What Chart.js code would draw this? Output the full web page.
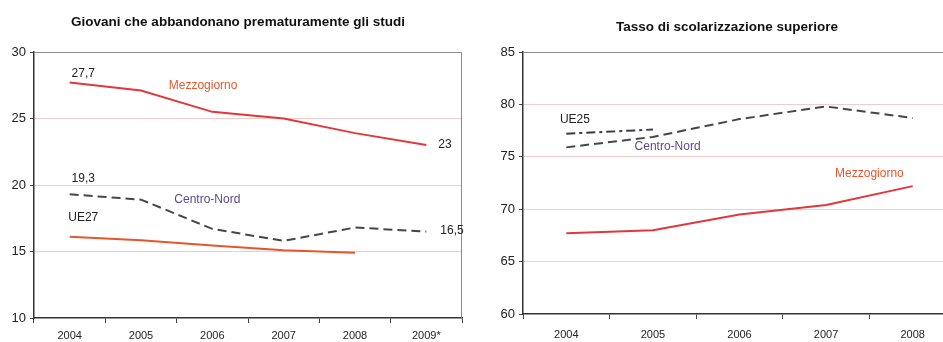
<!DOCTYPE html>
<html>
<head>
<meta charset="utf-8">
<script src="https://cdn.jsdelivr.net/npm/chart.js@4.4.0/dist/chart.umd.min.js"></script>
<style>
  html, body { margin: 0; padding: 0; background: #fff; overflow: hidden; width: 943px; height: 342px; }
  #left { position: absolute; left: 0; top: 0; }
  #right { position: absolute; left: 470px; top: 0; }
</style>
</head>
<body>
<canvas id="left" width="470" height="342"></canvas>
<canvas id="right" width="490" height="342"></canvas>
<script>
// left chart: giovani che abbandonano
const leftYears = ['2004', '2005', '2006', '2007', '2008', '2009*'];
const leftMezzogiorno = [27.7, 27.1, 25.5, 25.0, 23.9, 23.0];
const leftCentroNord = [19.3, 18.9, 16.7, 15.8, 16.8, 16.5];
const leftUE27 = [16.1, 15.85, 15.45, 15.1, 14.9, null];

// right chart: tasso di scolarizzazione
const rightYears = ['2004', '2005', '2006', '2007', '2008'];
const rightMezzogiorno = [67.7, 68.0, 69.5, 70.4, 72.2];
const rightCentroNord = [75.9, 76.9, 78.6, 79.8, 78.7];
const rightUE25 = [77.2, 77.6, null, null, null];

const FONT = '"Liberation Sans", Arial, sans-serif';
const RED = '#e0383c';
const ORANGE = '#e8552a';
const DARK = '#464646';
const PURPLE = '#5b4b8a';

// title, frame and in-chart labels
function notesPlugin(title, titleX, titleY, notes) {
  return {
    id: 'notes',
    afterDatasetsDraw(chart) {
      const { ctx, chartArea: a, scales: { x, y } } = chart;
      ctx.save();
      ctx.strokeStyle = '#8a8a8a';
      ctx.lineWidth = 1;
      ctx.beginPath();
      ctx.moveTo(a.left, a.top + 0.5);
      ctx.lineTo(a.right - 0.5, a.top + 0.5);
      ctx.lineTo(a.right - 0.5, a.bottom);
      ctx.stroke();

      ctx.textAlign = 'center';
      ctx.textBaseline = 'middle';
      ctx.fillStyle = '#111';
      ctx.font = 'bold 13.5px ' + FONT;
      ctx.fillText(title, titleX, titleY);

      ctx.font = '12px ' + FONT;
      notes.forEach(n => {
        ctx.fillStyle = n.color;
        ctx.fillText(n.text, x.getPixelForValue(n.at), y.getPixelForValue(n.value));
      });
      ctx.restore();
    }
  };
}

function line(data, color, dash) {
  return {
    data: data,
    borderColor: color,
    borderWidth: 2,
    borderDash: dash || [],
    pointRadius: 0,
    tension: 0,
    fill: false,
    spanGaps: false
  };
}

function scales(min, max, yWidth, xHeight, xPad) {
  return {
    x: {
      offset: true,
      grid: { offset: true, drawOnChartArea: false, tickLength: 5, tickColor: '#444' },
      border: { color: '#333', width: 1.5 },
      ticks: { color: '#222', font: { family: FONT, size: 11 }, padding: xPad, maxRotation: 0, autoSkip: false },
      afterFit: s => { s.height = xHeight; }
    },
    y: {
      min: min,
      max: max,
      ticks: { stepSize: 5, color: '#222', font: { family: FONT, size: 13 }, padding: 4 },
      grid: {
        color: c => (c.tick.value === min || c.tick.value === max) ? 'rgba(0,0,0,0)' : 'rgba(226,140,140,0.45)',
        tickColor: '#444',
        tickLength: 4
      },
      border: { color: '#333', width: 1.5 },
      afterFit: s => { s.width = yWidth; }
    }
  };
}

new Chart('left', {
  type: 'line',
  data: {
    labels: leftYears,
    datasets: [
      line(leftMezzogiorno, RED),
      line(leftCentroNord, DARK, [9, 5]),
      line(leftUE27, ORANGE)
    ]
  },
  options: {
    responsive: false,
    animation: false,
    layout: { padding: { left: 0, right: 8, top: 52, bottom: 0 } },
    plugins: { legend: { display: false }, tooltip: { enabled: false } },
    scales: scales(10, 30, 34, 24, 6)
  },
  plugins: [notesPlugin('Giovani che abbandonano prematuramente gli studi', 238, 22, [
    { text: '27,7', at: 0.19, value: 28.35, color: '#222' },
    { text: 'Mezzogiorno', at: 1.87, value: 27.5, color: ORANGE },
    { text: '23', at: 5.26, value: 23.0, color: '#222' },
    { text: '19,3', at: 0.19, value: 20.5, color: '#222' },
    { text: 'Centro-Nord', at: 1.93, value: 18.87, color: PURPLE },
    { text: 'UE27', at: 0.19, value: 17.54, color: '#222' },
    { text: '16,5', at: 5.36, value: 16.6, color: '#222' }
  ])]
});

new Chart('right', {
  type: 'line',
  data: {
    labels: rightYears,
    datasets: [
      line(rightMezzogiorno, RED),
      line(rightCentroNord, DARK, [9, 5]),
      line(rightUE25, '#3a3a48', [9, 4, 3, 4])
    ]
  },
  options: {
    responsive: false,
    animation: false,
    layout: { padding: { left: 0, right: 4, top: 52, bottom: 0 } },
    plugins: { legend: { display: false }, tooltip: { enabled: false } },
    scales: scales(60, 85, 53, 28, 9)
  },
  plugins: [notesPlugin('Tasso di scolarizzazione superiore', 257, 27, [
    { text: 'UE25', at: 0.1, value: 78.57, color: '#222' },
    { text: 'Centro-Nord', at: 1.17, value: 76.0, color: PURPLE },
    { text: 'Mezzogiorno', at: 3.5, value: 73.4, color: ORANGE }
  ])]
});
</script>
</body>
</html>
